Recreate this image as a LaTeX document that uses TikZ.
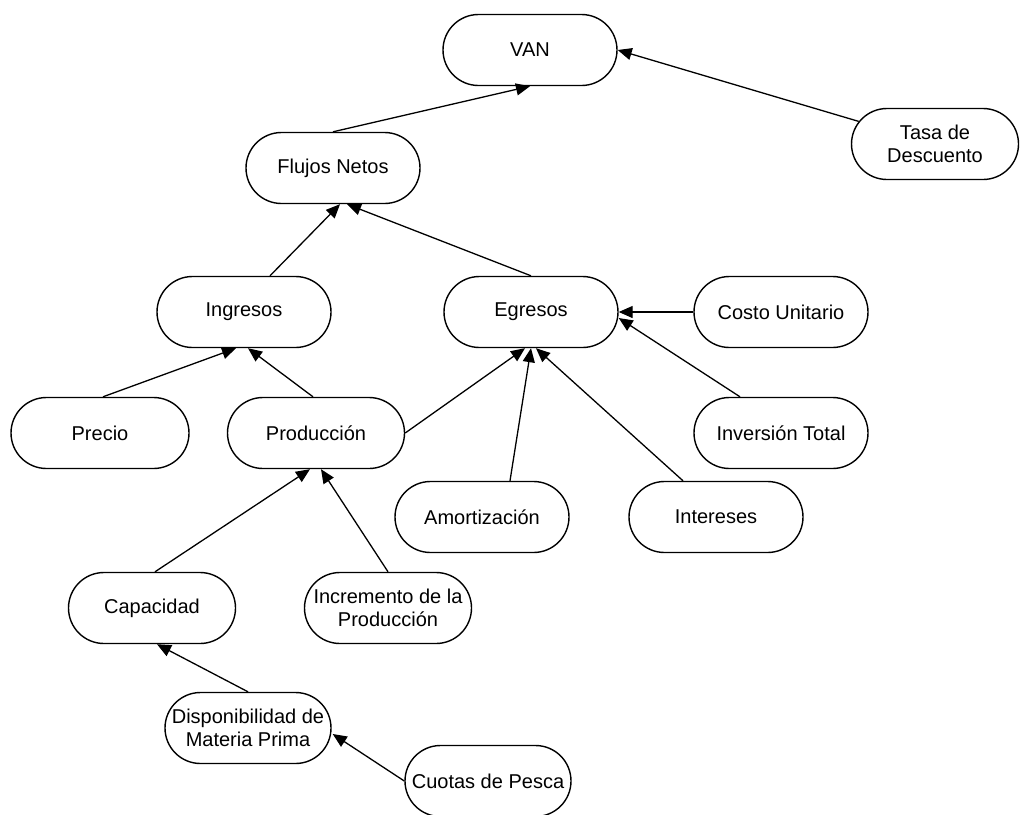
\documentclass[tikz,border=0pt]{standalone}
\usepackage{fontspec}
\setmainfont{Liberation Sans}
\usetikzlibrary{shapes.misc,arrows.meta,calc}
\begin{document}
\begin{tikzpicture}[x=0.5pt,y=-0.5pt,
  box/.style={draw,line width=0.7pt,rounded rectangle,minimum width=89pt,minimum height=35.5pt,inner sep=1pt,align=center,font=\fontsize{10}{11.5}\selectfont},
  link/.style={line width=0.65pt,-{Triangle[length=7pt,width=6pt]}}]
\useasboundingbox (0,0) rectangle (1022,814);
\node[box] (VAN) at (530,50) {VAN};
\node[box,minimum width=85.5pt] (Tasa) at (935,144) {Tasa de\\Descuento};
\node[box] (Flujos) at (333,168) {Flujos Netos};
\node[box] (Ingresos) at (244,312) {Ingresos};
\node[box] (Egresos) at (531,312) {Egresos};
\node[box] (Costo) at (781,312) {Costo Unitario};
\node[box] (Inversion) at (781,433) {Inversión Total};
\node[box,minimum width=91pt] (Precio) at (100,433) {Precio};
\node[box,minimum width=90.5pt] (Produccion) at (316,433) {Producción};
\node[box] (Amort) at (482,517) {Amortización};
\node[box] (Intereses) at (716,517) {Intereses};
\node[box,minimum width=85.5pt] (Capacidad) at (152,608) {Capacidad};
\node[box,minimum width=85.5pt] (Incremento) at (388,608) {Incremento de la\\Producción};
\node[box,minimum width=85pt] (Disp) at (248,728) {Disponibilidad de\\Materia Prima};
\node[box,minimum width=85pt] (Cuotas) at (488,781) {Cuotas de Pesca};

\draw[link] (Flujos.north) -- (VAN.south);
\draw[link] (Tasa) -- (VAN.east);
\draw[link] ($(Ingresos.north)+(26,0)$) -- ($(Flujos.south)+(7,0)$);
\draw[link] (Egresos.north) -- ($(Flujos.south)+(14,0)$);
\draw[link] ($(Precio.north)+(3,0)$) -- ($(Ingresos.south)+(-8,0)$);
\draw[link] ($(Produccion.north)+(-3,0)$) -- ($(Ingresos.south)+(4,0)$);
\draw[link] (Costo.west) -- (Egresos.east);
\draw[link] ($(Inversion.north)+(-41,0)$) -- ($(Egresos.east)+(0,6)$);
\draw[link] (Produccion.east) -- ($(Egresos.south)+(-6,0)$);
\draw[link] ($(Amort.north)+(28,0)$) -- (Egresos.south);
\draw[link] ($(Intereses.north)+(-33,0)$) -- ($(Egresos.south)+(5,0)$);
\draw[link] ($(Capacidad.north)+(3,0)$) -- ($(Produccion.south)+(-6,0)$);
\draw[link] (Incremento.north) -- ($(Produccion.south)+(5,0)$);
\draw[link] (Disp.north) -- ($(Capacidad.south)+(5,0)$);
\draw[link] (Cuotas.west) -- ($(Disp.east)+(1,6)$);
\end{tikzpicture}
\end{document}
